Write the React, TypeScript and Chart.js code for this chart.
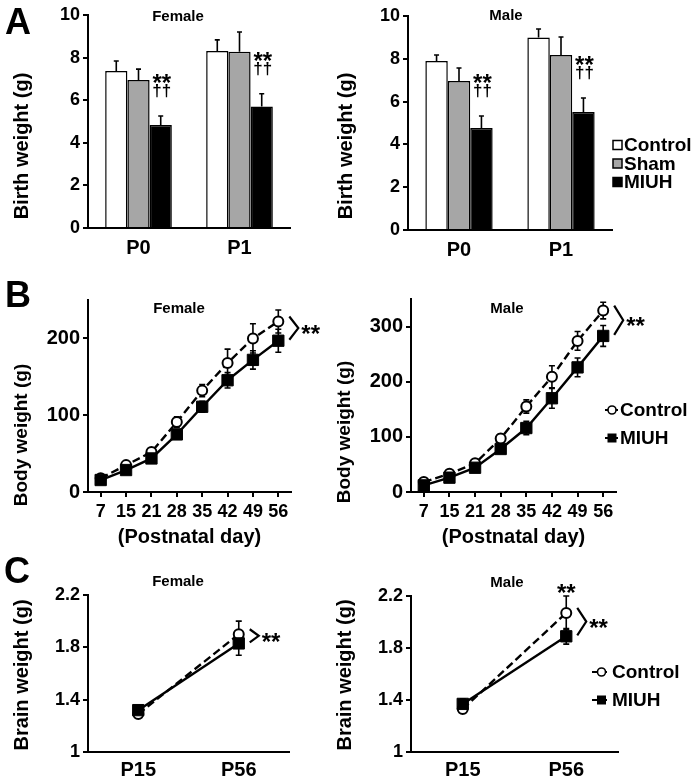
import React, { useEffect, useRef } from 'react';
import { Chart, registerables } from 'chart.js';

Chart.register(...registerables);

const FAMILY = '"Liberation Sans", Arial, Helvetica, sans-serif';

// ---------- Panel A: birth weight (g)
const birthDays = ['P0', 'P1'];
const groupLabels = ['Control', 'Sham', 'MIUH'];
const birthTicks = [0, 2, 4, 6, 8, 10];

const femaleBirthControl = [7.37, 8.31];
const femaleBirthControlErr = [0.47, 0.52];
const femaleBirthSham = [6.95, 8.28];
const femaleBirthShamErr = [0.51, 0.92];
const femaleBirthMIUH = [4.84, 5.7];
const femaleBirthMIUHErr = [0.42, 0.6];

const maleBirthControl = [7.9, 8.99];
const maleBirthControlErr = [0.28, 0.4];
const maleBirthSham = [6.96, 8.18];
const maleBirthShamErr = [0.61, 0.84];
const maleBirthMIUH = [4.77, 5.51];
const maleBirthMIUHErr = [0.56, 0.66];

// ---------- Panel B: body weight (g)
const postnatalDays = ['7', '15', '21', '28', '35', '42', '49', '56'];
const femaleBodyTicks = [0, 100, 200];
const maleBodyTicks = [0, 100, 200, 300];

const femaleBodyControl = [17.8, 35, 52, 91, 132, 168, 200, 222];
const femaleBodyControlErr = [3, 3, 4, 7, 8, 18, 19, 15];
const femaleBodyMIUH = [15.6, 28.6, 43.7, 75, 111, 145.5, 172, 197];
const femaleBodyMIUHErr = [2, 3, 4, 5, 7, 10, 12, 15];

const maleBodyControl = [18, 33, 52, 97, 155, 209, 274, 329];
const maleBodyControlErr = [3, 4, 5, 8, 12, 20, 17, 15];
const maleBodyMIUH = [12, 26, 44, 78, 116, 170, 226, 283];
const maleBodyMIUHErr = [2, 3, 4, 6, 12, 18, 17, 19];

// ---------- Panel C: brain weight (g)
const brainDays = ['P15', 'P56'];
const brainTicks = [1, 1.4, 1.8, 2.2];

const femaleBrainControl = [1.29, 1.9];
const femaleBrainControlErr = [0.02, 0.1];
const femaleBrainMIUH = [1.32, 1.83];
const femaleBrainMIUHErr = [0.02, 0.09];

const maleBrainControl = [1.33, 2.07];
const maleBrainControlErr = [0.02, 0.13];
const maleBrainMIUH = [1.37, 1.89];
const maleBrainMIUHErr = [0.04, 0.06];

// ---------- helpers
type Rect = { x: number; y: number; w: number; h: number };
type Area = { l: number; t: number; r: number; b: number };

function drawText(
  ctx: CanvasRenderingContext2D,
  str: string,
  x: number,
  y: number,
  size: number,
  weight = 'bold',
  align: CanvasTextAlign = 'center',
  baseline: CanvasTextBaseline = 'middle',
  rotate = 0
) {
  ctx.save();
  ctx.font = `${weight} ${size}px ${FAMILY}`;
  ctx.fillStyle = '#000';
  ctx.textAlign = align;
  ctx.textBaseline = baseline;
  ctx.translate(x, y);
  if (rotate) ctx.rotate(rotate);
  ctx.fillText(str, 0, 0);
  ctx.restore();
}

function drawErrors(chart: any, dsIndex: number, values: number[], errs: number[], both: boolean, cap: number) {
  const ctx = chart.ctx as CanvasRenderingContext2D;
  const ys = chart.scales.y;
  const meta = chart.getDatasetMeta(dsIndex);
  ctx.save();
  ctx.strokeStyle = '#000';
  ctx.lineWidth = 1.6;
  meta.data.forEach((el: any, i: number) => {
    const x = el.x;
    const top = ys.getPixelForValue(values[i] + errs[i]);
    const bot = both ? ys.getPixelForValue(values[i] - errs[i]) : ys.getPixelForValue(values[i]);
    ctx.beginPath();
    ctx.moveTo(x, top);
    ctx.lineTo(x, bot);
    ctx.moveTo(x - cap, top);
    ctx.lineTo(x + cap, top);
    if (both) {
      ctx.moveTo(x - cap, bot);
      ctx.lineTo(x + cap, bot);
    }
    ctx.stroke();
  });
  ctx.restore();
}

function axisY(ticksArr: number[], min: number, max: number, W: number, size: number) {
  return {
    type: 'linear',
    min,
    max,
    afterBuildTicks: (s: any) => {
      s.ticks = ticksArr.map((v) => ({ value: v }));
    },
    grid: { drawOnChartArea: false, drawTicks: true, tickLength: 5, color: '#000', lineWidth: 2 },
    border: { display: true, color: '#000', width: 2 },
    ticks: {
      color: '#000',
      font: { family: FAMILY, size, weight: 'bold' },
      padding: 3,
      callback: (v: any) => String(Math.round(Number(v) * 10) / 10),
    },
    afterFit: (s: any) => {
      s.width = W;
    },
  };
}

function frame(rect: Rect, area: Area) {
  return {
    W: area.l - rect.x,
    padTop: area.t - rect.y,
    padRight: rect.x + rect.w - area.r,
    H: rect.y + rect.h - area.b,
  };
}

const TITLE_SIZE = 15;
const STAR_SIZE = 24;

// ---------- Bar chart (panel A)
type BarSpec = {
  rect: Rect;
  area: Area;
  values: number[][];
  errors: number[][];
  title: string;
  titleAt: [number, number];
  yTitleAt: [number, number];
  legend: boolean;
};

function barConfig(spec: BarSpec) {
  const { rect, area } = spec;
  const f = frame(rect, area);
  const fills = ['#ffffff', '#a6a6a6', '#000000'];
  return {
    type: 'bar',
    data: {
      labels: birthDays,
      datasets: spec.values.map((v, i) => ({
        label: groupLabels[i],
        data: v,
        backgroundColor: fills[i],
        borderColor: '#000',
        borderWidth: 1.5,
        categoryPercentage: 0.66,
        barPercentage: 1.0,
      })),
    },
    options: {
      responsive: false,
      animation: false,
      devicePixelRatio: 1,
      layout: { padding: { left: 0, top: f.padTop, right: f.padRight, bottom: 0 } },
      plugins: { legend: { display: false }, tooltip: { enabled: false } },
      scales: {
        x: {
          grid: { display: true, drawOnChartArea: false, drawTicks: false },
          border: { display: true, color: '#000', width: 2 },
          ticks: { color: '#000', font: { family: FAMILY, size: 20, weight: 'bold' }, padding: 8 },
          afterFit: (s: any) => {
            s.height = f.H;
          },
        },
        y: axisY(birthTicks, 0, 10, f.W, 18),
      },
    },
    plugins: [
      {
        id: 'birthDecor',
        afterDatasetsDraw(chart: any) {
          const ctx = chart.ctx as CanvasRenderingContext2D;
          spec.values.forEach((vals, di) => drawErrors(chart, di, vals, spec.errors[di], false, 2.5));
          const ys = chart.scales.y;
          const miuh = chart.getDatasetMeta(2);
          miuh.data.forEach((el: any, i: number) => {
            const top = ys.getPixelForValue(spec.values[2][i] + spec.errors[2][i]);
            drawText(ctx, '**', el.x + 1, top - 39 + 14, STAR_SIZE, 'bold', 'center', 'alphabetic');
            drawText(ctx, '\u2020\u2020', el.x + 1, top - 26 + 6, 17, 'bold', 'center', 'alphabetic');
          });
        },
        afterDraw(chart: any) {
          const ctx = chart.ctx as CanvasRenderingContext2D;
          drawText(ctx, spec.title, spec.titleAt[0] - rect.x, spec.titleAt[1] - rect.y, TITLE_SIZE);
          drawText(ctx, 'Birth weight (g)', spec.yTitleAt[0] - rect.x, spec.yTitleAt[1] - rect.y, 20, 'bold', 'center', 'middle', -Math.PI / 2);
          if (spec.legend) {
            const rows = [145, 163.5, 182];
            const fills = ['#ffffff', '#a6a6a6', '#000000'];
            rows.forEach((ry, i) => {
              const y = ry - rect.y;
              const x = 613 - rect.x;
              ctx.save();
              ctx.fillStyle = fills[i];
              ctx.fillRect(x, y - 4.5, 9, 9);
              ctx.strokeStyle = '#000';
              ctx.lineWidth = 1.5;
              ctx.strokeRect(x, y - 4.5, 9, 9);
              ctx.restore();
              drawText(ctx, groupLabels[i], 624 - rect.x, y + 1, 19, 'bold', 'left', 'middle');
            });
          }
        },
      },
    ],
  };
}

// ---------- Line chart (panels B and C)
type LineSpec = {
  rect: Rect;
  area: Area;
  labels: string[];
  control: number[];
  controlErr: number[];
  miuh: number[];
  miuhErr: number[];
  ticksArr: number[];
  min: number;
  max: number;
  yTickSize: number;
  xTickSize: number;
  xTickMarks: boolean;
  xTickPad: number;
  xTitle: string | null;
  xTitlePad: number;
  title: string;
  titleAt: [number, number];
  yTitle: string;
  yTitleAt: [number, number];
  yTitleSize: number;
  legend: null | { lineX: [number, number]; markerX: number; textX: number; rows: [number, number] };
  topStars: boolean;
};

function lineConfig(spec: LineSpec) {
  const { rect, area } = spec;
  const f = frame(rect, area);
  return {
    type: 'line',
    data: {
      labels: spec.labels,
      datasets: [
        {
          label: 'Control',
          data: spec.control,
          borderColor: '#000',
          borderWidth: 2.4,
          borderDash: [8, 4],
          pointStyle: 'circle',
          pointRadius: 5,
          pointBorderWidth: 2,
          pointBackgroundColor: '#fff',
          pointBorderColor: '#000',
          tension: 0,
          fill: false,
          order: 1,
        },
        {
          label: 'MIUH',
          data: spec.miuh,
          borderColor: '#000',
          borderWidth: 2.4,
          pointStyle: 'rect',
          pointRadius: 8,
          pointBorderWidth: 1,
          pointBackgroundColor: '#000',
          pointBorderColor: '#000',
          tension: 0,
          fill: false,
          order: 0,
        },
      ],
    },
    options: {
      responsive: false,
      animation: false,
      devicePixelRatio: 1,
      layout: { padding: { left: 0, top: f.padTop, right: f.padRight, bottom: 0 } },
      plugins: { legend: { display: false }, tooltip: { enabled: false } },
      scales: {
        x: {
          type: 'category',
          offset: true,
          grid: {
            display: true,
            drawOnChartArea: false,
            drawTicks: spec.xTickMarks,
            tickLength: 5,
            color: '#000',
            lineWidth: 2,
            offset: false,
          },
          border: { display: true, color: '#000', width: 2 },
          ticks: { color: '#000', font: { family: FAMILY, size: spec.xTickSize, weight: 'bold' }, padding: spec.xTickPad, autoSkip: false, maxRotation: 0 },
          title: spec.xTitle
            ? {
                display: true,
                text: spec.xTitle,
                color: '#000',
                font: { family: FAMILY, size: 20, weight: 'bold' },
                padding: { top: 0, bottom: spec.xTitlePad },
              }
            : { display: false },
          afterFit: (s: any) => {
            s.height = f.H;
          },
        },
        y: axisY(spec.ticksArr, spec.min, spec.max, f.W, spec.yTickSize),
      },
    },
    plugins: [
      {
        id: 'lineDecor',
        beforeDatasetsDraw(chart: any) {
          drawErrors(chart, 0, spec.control, spec.controlErr, true, 3);
          drawErrors(chart, 1, spec.miuh, spec.miuhErr, true, 3);
        },
        afterDraw(chart: any) {
          const ctx = chart.ctx as CanvasRenderingContext2D;
          const ys = chart.scales.y;
          const last = spec.labels.length - 1;
          const c = chart.getDatasetMeta(0).data[last];
          const m = chart.getDatasetMeta(1).data[last];
          // bracket
          const top = c.y - 5;
          const bot = m.y - 1;
          const mid = (top + bot) / 2;
          ctx.save();
          ctx.strokeStyle = '#000';
          ctx.lineWidth = 2.2;
          ctx.lineJoin = 'miter';
          ctx.beginPath();
          ctx.moveTo(c.x + 11, top);
          ctx.lineTo(c.x + 20, mid);
          ctx.lineTo(c.x + 11, bot);
          ctx.stroke();
          ctx.restore();
          drawText(ctx, '**', c.x + 23, mid + 14, STAR_SIZE, 'bold', 'left', 'alphabetic');
          if (spec.topStars) {
            const errTop = ys.getPixelForValue(spec.control[last] + spec.controlErr[last]);
            drawText(ctx, '**', c.x, errTop - 9 + 14, STAR_SIZE, 'bold', 'center', 'alphabetic');
          }
          drawText(ctx, spec.title, spec.titleAt[0] - rect.x, spec.titleAt[1] - rect.y, TITLE_SIZE);
          drawText(ctx, spec.yTitle, spec.yTitleAt[0] - rect.x, spec.yTitleAt[1] - rect.y, spec.yTitleSize, 'bold', 'center', 'middle', -Math.PI / 2);
          if (spec.legend) {
            const L = spec.legend;
            ['Control', 'MIUH'].forEach((name, i) => {
              const y = L.rows[i] - rect.y;
              ctx.save();
              ctx.strokeStyle = '#000';
              ctx.lineWidth = 2;
              ctx.beginPath();
              ctx.moveTo(L.lineX[0] - rect.x, y);
              ctx.lineTo(L.lineX[1] - rect.x, y);
              ctx.stroke();
              const mx = L.markerX - rect.x;
              if (i === 0) {
                ctx.beginPath();
                ctx.arc(mx, y, 4, 0, Math.PI * 2);
                ctx.fillStyle = '#fff';
                ctx.fill();
                ctx.lineWidth = 1.6;
                ctx.stroke();
              } else {
                ctx.fillStyle = '#000';
                ctx.fillRect(mx - 4.5, y - 4.5, 9, 9);
              }
              ctx.restore();
              drawText(ctx, name, L.textX - rect.x, y + 1, 19, 'bold', 'left', 'middle');
            });
          }
        },
      },
    ],
  };
}

// ---------- chart specs
const specA_F: BarSpec = {
  rect: { x: 0, y: 0, w: 330, h: 265 },
  area: { l: 88, t: 15, r: 290, b: 228 },
  values: [femaleBirthControl, femaleBirthSham, femaleBirthMIUH],
  errors: [femaleBirthControlErr, femaleBirthShamErr, femaleBirthMIUHErr],
  title: 'Female',
  titleAt: [178, 17],
  yTitleAt: [22, 146],
  legend: false,
};

const specA_M: BarSpec = {
  rect: { x: 324, y: 0, w: 373, h: 265 },
  area: { l: 408, t: 16, r: 612, b: 230 },
  values: [maleBirthControl, maleBirthSham, maleBirthMIUH],
  errors: [maleBirthControlErr, maleBirthShamErr, maleBirthMIUHErr],
  title: 'Male',
  titleAt: [506, 16],
  yTitleAt: [346, 146],
  legend: true,
};

const specB_F: LineSpec = {
  rect: { x: 0, y: 270, w: 330, h: 290 },
  area: { l: 88, t: 300, r: 291, b: 492 },
  labels: postnatalDays,
  control: femaleBodyControl,
  controlErr: femaleBodyControlErr,
  miuh: femaleBodyMIUH,
  miuhErr: femaleBodyMIUHErr,
  ticksArr: femaleBodyTicks,
  min: 0,
  max: 250,
  yTickSize: 20,
  xTickSize: 18,
  xTickMarks: true,
  xTickPad: 4,
  xTitle: '(Postnatal day)',
  xTitlePad: 11,
  title: 'Female',
  titleAt: [179, 309],
  yTitle: 'Body weight (g)',
  yTitleAt: [22, 435],
  yTitleSize: 19,
  legend: null,
  topStars: false,
};

const specB_M: LineSpec = {
  rect: { x: 324, y: 270, w: 373, h: 290 },
  area: { l: 411, t: 299, r: 616, b: 492 },
  labels: postnatalDays,
  control: maleBodyControl,
  controlErr: maleBodyControlErr,
  miuh: maleBodyMIUH,
  miuhErr: maleBodyMIUHErr,
  ticksArr: maleBodyTicks,
  min: 0,
  max: 350,
  yTickSize: 20,
  xTickSize: 18,
  xTickMarks: true,
  xTickPad: 4,
  xTitle: '(Postnatal day)',
  xTitlePad: 11,
  title: 'Male',
  titleAt: [507, 309],
  yTitle: 'Body weight (g)',
  yTitleAt: [345, 432],
  yTitleSize: 19,
  legend: { lineX: [605, 618], markerX: 612, textX: 620, rows: [410, 438] },
  topStars: false,
};

const specC_F: LineSpec = {
  rect: { x: 0, y: 560, w: 330, h: 222 },
  area: { l: 88, t: 595, r: 289, b: 752 },
  labels: brainDays,
  control: femaleBrainControl,
  controlErr: femaleBrainControlErr,
  miuh: femaleBrainMIUH,
  miuhErr: femaleBrainMIUHErr,
  ticksArr: brainTicks,
  min: 1,
  max: 2.2,
  yTickSize: 18,
  xTickSize: 20,
  xTickMarks: false,
  xTickPad: 6,
  xTitle: null,
  xTitlePad: 0,
  title: 'Female',
  titleAt: [178, 582],
  yTitle: 'Brain weight (g)',
  yTitleAt: [22, 675],
  yTitleSize: 20,
  legend: null,
  topStars: false,
};

const specC_M: LineSpec = {
  rect: { x: 324, y: 560, w: 373, h: 222 },
  area: { l: 411, t: 596, r: 618, b: 752 },
  labels: brainDays,
  control: maleBrainControl,
  controlErr: maleBrainControlErr,
  miuh: maleBrainMIUH,
  miuhErr: maleBrainMIUHErr,
  ticksArr: brainTicks,
  min: 1,
  max: 2.2,
  yTickSize: 18,
  xTickSize: 20,
  xTickMarks: false,
  xTickPad: 6,
  xTitle: null,
  xTitlePad: 0,
  title: 'Male',
  titleAt: [507, 583],
  yTitle: 'Brain weight (g)',
  yTitleAt: [345, 675],
  yTitleSize: 20,
  legend: { lineX: [592, 607], markerX: 601.5, textX: 612, rows: [672, 700] },
  topStars: true,
};

function ChartCanvas({ rect, config }: { rect: Rect; config: any }) {
  const ref = useRef<HTMLCanvasElement | null>(null);
  useEffect(() => {
    if (!ref.current) return;
    const chart = new Chart(ref.current, config);
    return () => chart.destroy();
  }, [config]);
  return (
    <canvas
      ref={ref}
      width={rect.w}
      height={rect.h}
      style={{ position: 'absolute', left: rect.x, top: rect.y, width: rect.w, height: rect.h }}
    />
  );
}

const letterStyle: React.CSSProperties = {
  position: 'absolute',
  fontFamily: FAMILY,
  fontWeight: 'bold',
  fontSize: 36,
  lineHeight: '36px',
  color: '#000',
};

const configs = [
  { rect: specA_F.rect, config: barConfig(specA_F) },
  { rect: specA_M.rect, config: barConfig(specA_M) },
  { rect: specB_F.rect, config: lineConfig(specB_F) },
  { rect: specB_M.rect, config: lineConfig(specB_M) },
  { rect: specC_F.rect, config: lineConfig(specC_F) },
  { rect: specC_M.rect, config: lineConfig(specC_M) },
];

export default function App() {
  return (
    <div style={{ position: 'absolute', left: 0, top: 0, width: 697, height: 782, background: '#fff', overflow: 'hidden' }}>
      {configs.map((c, i) => (
        <ChartCanvas key={i} rect={c.rect} config={c.config} />
      ))}
      <div style={{ ...letterStyle, left: 5, top: 4 }}>A</div>
      <div style={{ ...letterStyle, left: 5, top: 277 }}>B</div>
      <div style={{ ...letterStyle, left: 4, top: 553 }}>C</div>
    </div>
  );
}
